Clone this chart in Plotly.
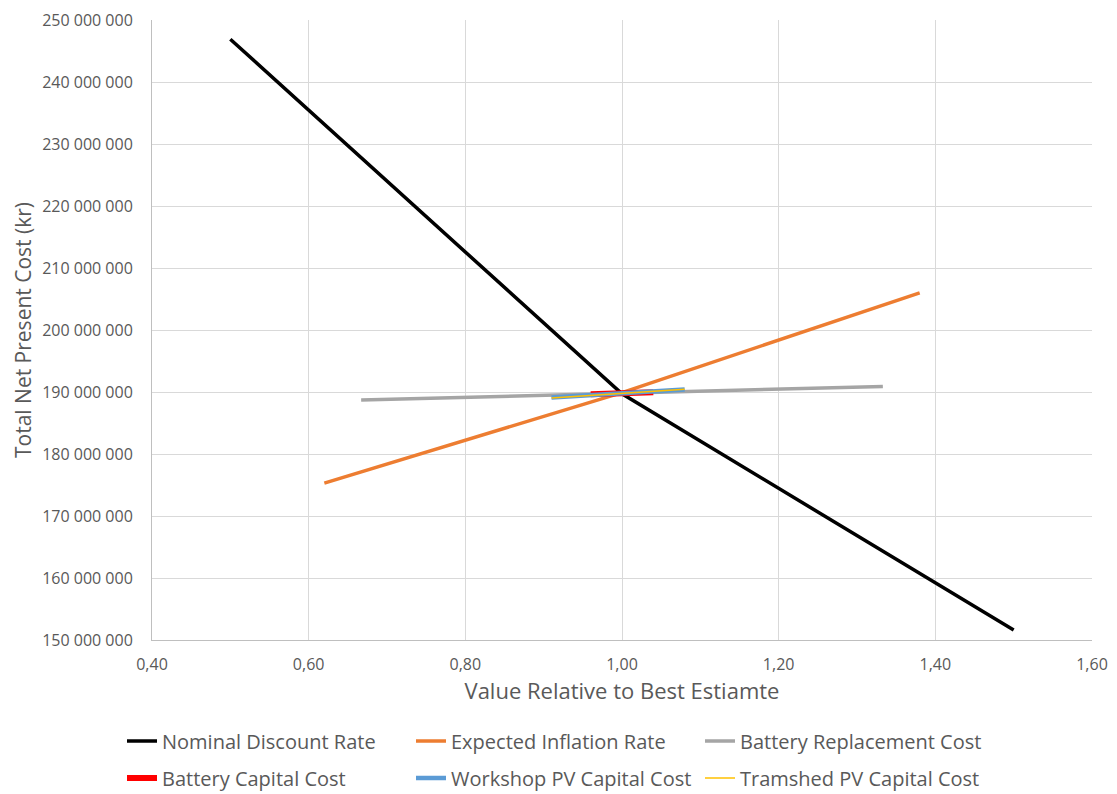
import plotly.graph_objects as go

# Data (x: value relative to best estimate, y: total NPC in kr)
nominal_x = [0.50, 1.00, 1.50]
nominal_y = [246_900_000, 189_700_000, 151_600_000]

inflation_x = [0.62, 1.00, 1.38]
inflation_y = [175_300_000, 189_900_000, 206_000_000]

batt_repl_x = [0.667, 1.00, 1.333]
batt_repl_y = [188_700_000, 189_800_000, 190_900_000]

batt_cap_x = [0.96, 1.00, 1.04]
batt_cap_y = [189_650_000, 189_800_000, 189_950_000]

workshop_x = [0.91, 1.00, 1.08]
workshop_y = [189_100_000, 189_750_000, 190_400_000]

tramshed_x = [0.91, 1.00, 1.08]
tramshed_y = [189_050_000, 189_750_000, 190_450_000]

series = [
    ("Nominal Discount Rate", nominal_x, nominal_y, "#000000", 3.5, "legend"),
    ("Expected Inflation Rate", inflation_x, inflation_y, "#ED7D31", 3.5, "legend"),
    ("Battery Replacement Cost", batt_repl_x, batt_repl_y, "#A5A5A5", 3.5, "legend"),
    ("Battery Capital Cost", batt_cap_x, batt_cap_y, "#FF0000", 6, "legend2"),
    ("Workshop PV Capital Cost", workshop_x, workshop_y, "#5B9BD5", 4.5, "legend2"),
    ("Tramshed PV Capital Cost", tramshed_x, tramshed_y, "#FFC000", 1.5, "legend2"),
]

fig = go.Figure()
for name, xs, ys, color, w, lg in series:
    fig.add_trace(go.Scatter(x=xs, y=ys, mode="lines", name=name, legend=lg,
                             line=dict(color=color, width=w)))

font_family = "Open Sans, Noto Sans, sans-serif"
legend_common = dict(
    orientation="h", xanchor="left", yanchor="middle",
    xref="container", yref="container",
    font=dict(size=20, color="#595959", family=font_family),
    entrywidth=244, entrywidthmode="pixels",
    itemwidth=30, bgcolor="rgba(0,0,0,0)",
)
fig.update_layout(
    width=1117, height=794,
    margin=dict(l=152, r=25, t=20, b=154, autoexpand=False),
    paper_bgcolor="white", plot_bgcolor="white",
    separators=", ",
    font=dict(family=font_family, color="#595959", size=16),
    xaxis=dict(
        range=[0.40, 1.60], dtick=0.2, tick0=0.4, tickformat=".2f",
        automargin=False,
        showgrid=True, gridcolor="#D9D9D9", gridwidth=1,
        showline=True, linecolor="#BFBFBF", linewidth=1,
        zeroline=False, ticks="outside", ticklen=10, tickcolor="rgba(0,0,0,0)",
        title=dict(text="Value Relative to Best Estiamte", font=dict(size=22, color="#595959"), standoff=7),
        tickfont=dict(size=16, color="#595959"),
    ),
    yaxis=dict(
        range=[150_000_000, 250_000_000], dtick=10_000_000, tickformat=",d",
        automargin=False,
        showgrid=True, gridcolor="#D9D9D9", gridwidth=1,
        showline=True, linecolor="#BFBFBF", linewidth=1,
        zeroline=False, ticks="outside", ticklen=15, tickcolor="rgba(0,0,0,0)",
        title=dict(text="Total Net Present Cost (kr)", font=dict(size=21, color="#595959"), standoff=4),
        tickfont=dict(size=16, color="#595959"),
    ),
    legend=dict(x=122 / 1117, y=1 - 741 / 794, **legend_common),
    legend2=dict(x=122 / 1117, y=1 - 778 / 794, **legend_common),
    showlegend=True,
)

fig.write_html("out.html")
